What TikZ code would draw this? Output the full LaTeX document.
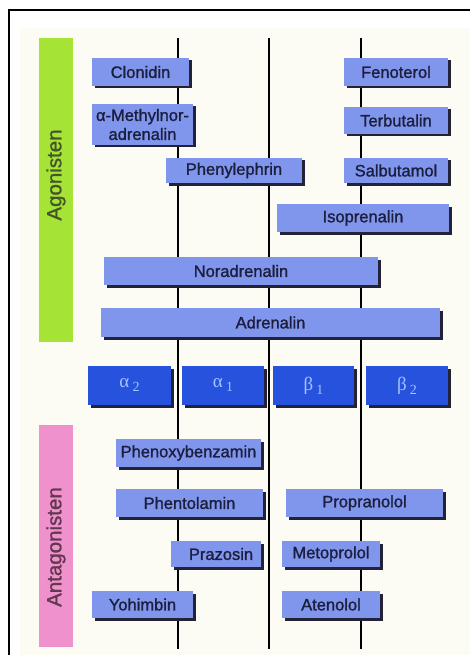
\documentclass[tikz,border=0pt]{standalone}
\usepackage{fontspec}
\setmainfont{Liberation Sans}
\newfontfamily\medfont[FakeBold=1.3]{Liberation Sans}
\newfontfamily\recfont{Liberation Serif}
\usetikzlibrary{shadows}
\definecolor{cream}{RGB}{252,251,244}
\definecolor{agogreen}{RGB}{165,228,55}
\definecolor{antpink}{RGB}{238,145,205}
\definecolor{boxblue}{RGB}{128,150,236}
\definecolor{recblue}{RGB}{38,82,222}
\definecolor{reclabel}{RGB}{165,195,255}
\definecolor{boxtext}{RGB}{28,30,62}
\definecolor{shadowc}{RGB}{35,35,55}
\definecolor{agotext}{RGB}{70,85,40}
\definecolor{anttext}{RGB}{100,55,80}
\tikzset{
  drug/.style={fill=boxblue, inner sep=0pt, text=boxtext,
    font=\medfont\fontsize{16.5}{19}\selectfont, align=center,
    drop shadow={shadow xshift=2.5pt, shadow yshift=-2.5pt, fill=shadowc, opacity=1}},
  recbox/.style={fill=recblue, inner sep=0pt, text=reclabel,
    font=\recfont\fontsize{19}{20}\selectfont,
    minimum height=39pt,
    drop shadow={shadow xshift=2.5pt, shadow yshift=-2.5pt, fill=shadowc, opacity=1}},
  bar/.style={inner sep=0pt, rotate=90, font=\medfont\fontsize{20.5}{22}\selectfont},
  axisline/.style={line width=1.4pt, black}
}
\newcommand{\dbox}[6]{\node[drug, minimum width=#4pt, minimum height=#5pt] (#1) at (#2,#3) {#6};}
\newcommand{\recsub}[1]{\,\raisebox{-4pt}{\fontsize{14}{14}\selectfont #1}}
\begin{document}
\begin{tikzpicture}[x=1pt,y=-1pt]
\useasboundingbox (0,0) rectangle (470,655);
\fill[white] (0,0) rectangle (470,655);
\fill[cream] (20,28) rectangle (470,655);
% frame
\draw[line width=1.5pt] (9,655) -- (9,10) -- (470,10);
% colour bars
\fill[agogreen] (39,38) rectangle (73,342);
\node[bar, text=agotext] (ago) at (56,175) {Agonisten};
\fill[antpink] (39,425) rectangle (73,647);
\node[bar, text=anttext] (ant) at (56,547) {Antagonisten};
% axis lines
\coordinate (a2top) at (178,38); \coordinate (a2bot) at (178,649);
\coordinate (a1top) at (269,38); \coordinate (a1bot) at (269,649);
\coordinate (b1top) at (361,38); \coordinate (b1bot) at (361,649);
\draw[axisline] (a2top) -- (a2bot);
\draw[axisline] (a1top) -- (a1bot);
\draw[axisline] (b1top) -- (b1bot);
% agonists
\dbox{clon}{140.5}{72}{97}{28}{Clonidin}
\dbox{feno}{396}{72}{104}{28}{Fenoterol}
\dbox{amet}{142.5}{124.5}{101}{41}{α-Methylnor-\\adrenalin}
\dbox{terb}{396}{120.5}{104}{27}{Terbutalin}
\dbox{phen}{234}{170.5}{136}{25}{Phenylephrin}
\dbox{salb}{396}{170.5}{104}{25}{Salbutamol}
\dbox{isop}{363}{218}{172}{28}{Isoprenalin}
\dbox{nora}{241}{271}{274}{28}{Noradrenalin}
\dbox{adre}{270.5}{322.5}{339}{29}{Adrenalin}
% receptors
\node[recbox, minimum width=83pt] (ra2) at (129.5,385.5) {α\recsub{2}};
\node[recbox, minimum width=82pt] (ra1) at (223,385.5) {α\recsub{1}};
\node[recbox, minimum width=81pt] (rb1) at (313.5,385.5) {β\recsub{1}};
\node[recbox, minimum width=82pt] (rb2) at (407,385.5) {β\recsub{2}};
% antagonists
\dbox{phenoxy}{188.5}{453}{145}{28}{Phenoxybenzamin}
\dbox{phento}{189.5}{503}{147}{28}{Phentolamin}
\dbox{propr}{364.5}{503}{157}{28}{Propranolol}
\dbox{praz}{216}{554}{90}{26}{\hspace*{10pt}Prazosin}
\dbox{metop}{331}{554}{98}{26}{Metoprolol}
\dbox{yohim}{142.5}{604.5}{101}{27}{Yohimbin}
\dbox{aten}{331}{604.5}{98}{27}{Atenolol}
\end{tikzpicture}
\end{document}
